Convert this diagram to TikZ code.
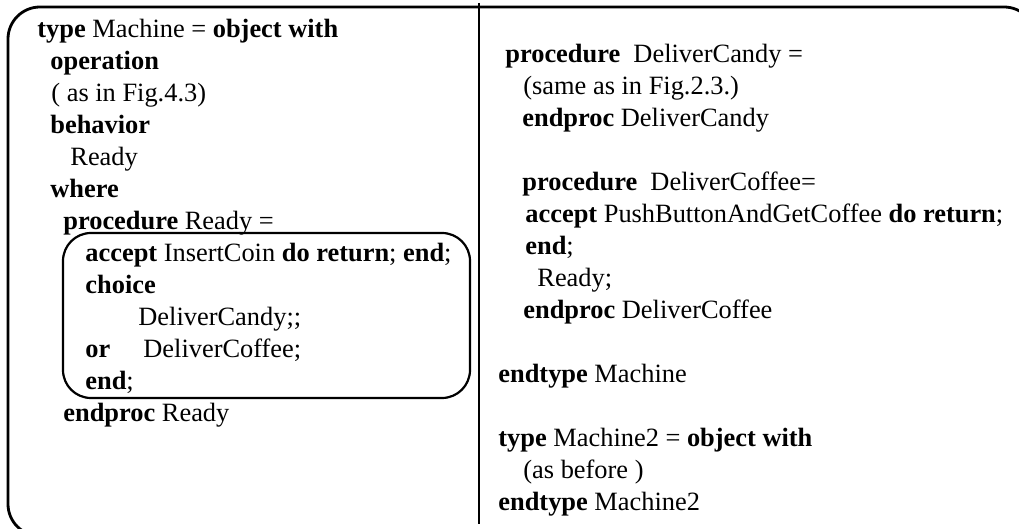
\documentclass[tikz,border=0pt]{standalone}
\usepackage{fontspec}
\setmainfont{Liberation Serif}
\usepackage{tikz}

\begin{document}
\begin{tikzpicture}[x=0.5pt,y=-0.5pt,
   txt/.style={anchor=base west,inner sep=0pt,font=\fontsize{13.2}{16}\selectfont},
   outline/.style={line width=1.4pt,rounded corners=16pt}]
   \useasboundingbox (0,0) rectangle (1019,529);

   % outer frame, divider and the box round the body of Ready
   \draw[outline] (8,7) rectangle (1036,536);
   \draw[line width=1pt] (479,3) -- (479,524);
   \draw[line width=1.1pt,rounded corners=14pt] (63,233) rectangle (470,398);

   % left column
   \node[txt] (tm)   at (37,38)  {\textbf{type} Machine = \textbf{object with}};
   \node[txt] (op)   at (50,70)  {\textbf{operation}};
   \node[txt] (asin) at (51,102) {( as in Fig.4.3)};
   \node[txt] (beh)  at (50,134) {\textbf{behavior}};
   \node[txt] (rdy)  at (70,166) {Ready};
   \node[txt] (wh)   at (50,198) {\textbf{where}};
   \node[txt] (prr)  at (63,230) {\textbf{procedure} Ready =};
   \node[txt] (acc)  at (85,262) {\textbf{accept} InsertCoin \textbf{do return}; \textbf{end};};
   \node[txt] (ch)   at (85,294) {\textbf{choice}};
   \node[txt] (dca)  at (138,326) {DeliverCandy;;};
   \node[txt] (or)   at (85,358) {\textbf{or}};
   \node[txt] (dco)  at (143,358) {DeliverCoffee;};
   \node[txt] (end)  at (85,390) {\textbf{end};};
   \node[txt] (epr)  at (63,422) {\textbf{endproc} Ready};

   % right column
   \node[txt] (pca)  at (505,63)  {\textbf{procedure}\ \ DeliverCandy =};
   \node[txt] (same) at (523,95)  {(same as in Fig.2.3.)};
   \node[txt] (eca)  at (522,127) {\textbf{endproc} DeliverCandy};
   \node[txt] (pco)  at (522,191) {\textbf{procedure}\ \ DeliverCoffee=};
   \node[txt] (push) at (525,223) {\textbf{accept} PushButtonAndGetCoffee \textbf{do return};};
   \node[txt] (end2) at (525,255) {\textbf{end};};
   \node[txt] (rdy2) at (537,287) {Ready;};
   \node[txt] (eco)  at (523,319) {\textbf{endproc} DeliverCoffee};
   \node[txt] (etm)  at (498,383) {\textbf{endtype} Machine};
   \node[txt] (tm2)  at (498,447) {\textbf{type} Machine2 = \textbf{object with}};
   \node[txt] (asb)  at (523,479) {(as before )};
   \node[txt] (etm2) at (498,511) {\textbf{endtype} Machine2};
\end{tikzpicture}
\end{document}
